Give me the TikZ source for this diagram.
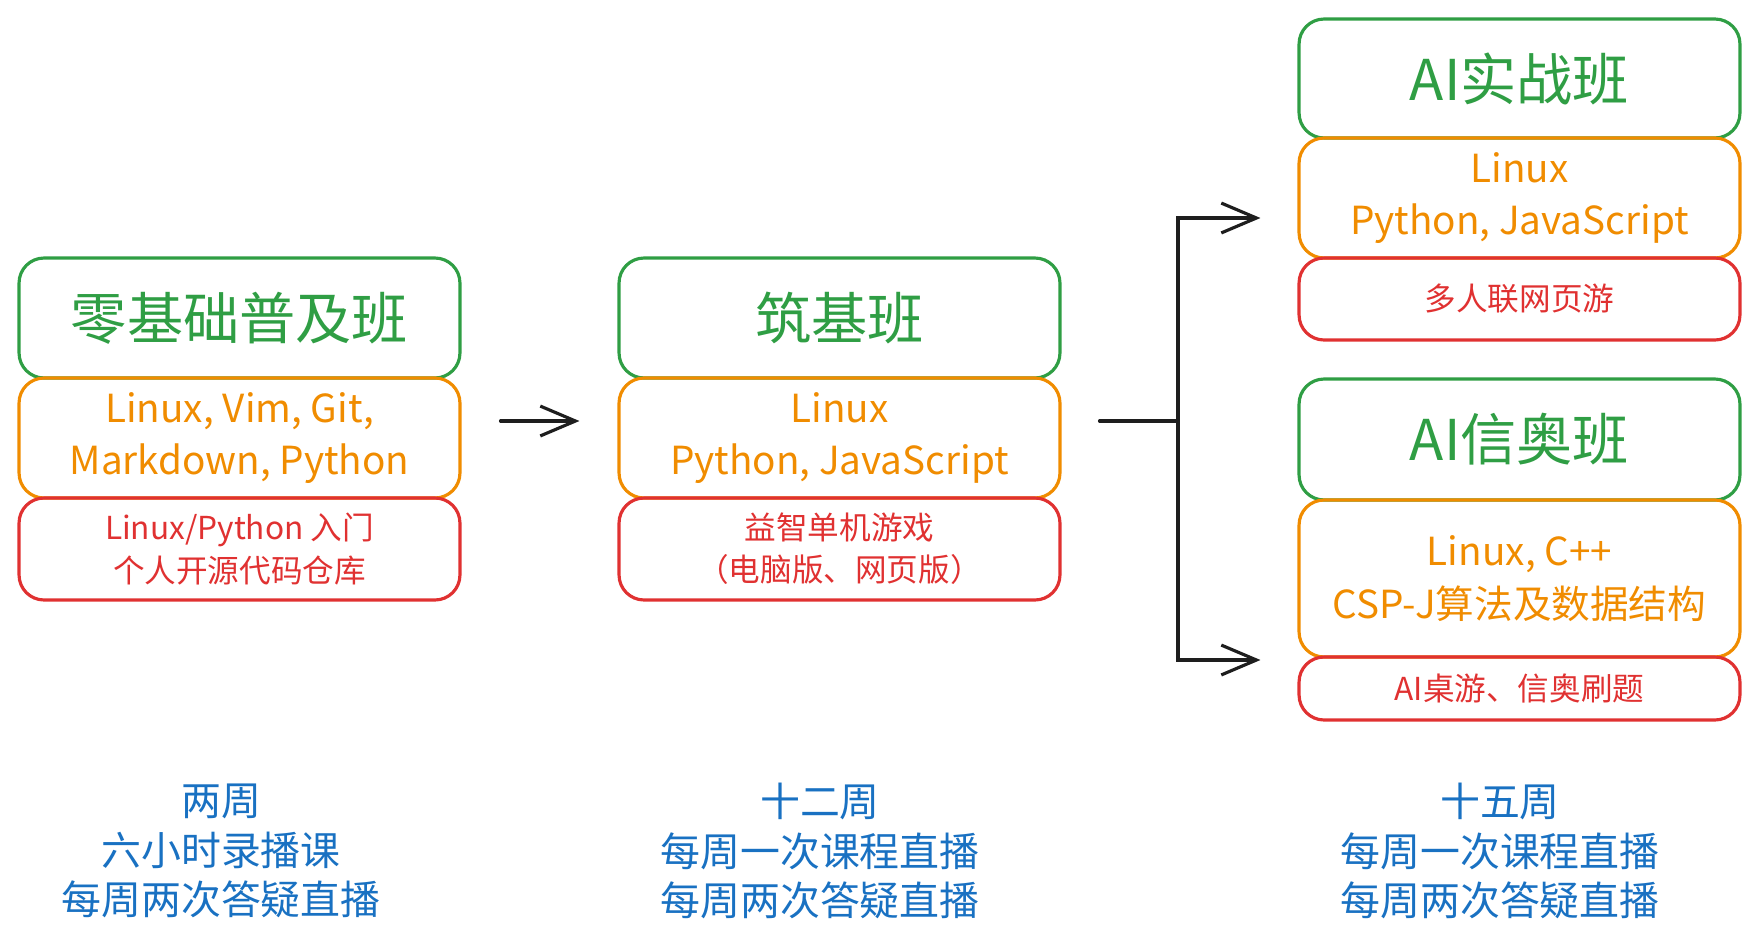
\documentclass[tikz,border=0pt]{standalone}
\usepackage{fontspec}
\setmainfont{Noto Sans CJK SC}
\usetikzlibrary{arrows.meta}
\definecolor{cgreen}{HTML}{2F9E44}
\definecolor{corange}{HTML}{F08C00}
\definecolor{cred}{HTML}{E03131}
\definecolor{cblue}{HTML}{1971C2}
\definecolor{cink}{HTML}{1E1E1E}
\begin{document}
\begin{tikzpicture}[x=0.02cm, y=-0.02cm, line width=1.8pt,
    layer/.style={draw, rounded corners=0.5cm, align=center, inner sep=0pt, minimum width=8.82cm},
    title/.style={layer, cgreen, font=\fontsize{32}{38}\selectfont},
    skill/.style={layer, corange, font=\fontsize{22}{30}\selectfont},
    proj/.style={layer, cred, font=\fontsize{18}{24}\selectfont},
    plan/.style={cblue, align=center, font=\fontsize{22.7}{28.4}\selectfont},
    flow/.style={cink, line cap=round, -{Straight Barb[length=20pt, width=17pt, line width=1.8pt]}}]
    \useasboundingbox (0,0) rectangle (1760,950);
    % 零基础
    \node[title, minimum height=2.4cm] (zeroTitle) at (239.5,318) {零基础普及班};
    \node[skill, minimum height=2.4cm] (zeroSkill) at (239.5,438) {Linux, Vim, Git,\\Markdown, Python};
    \node[proj, minimum height=2.04cm] (zeroProj) at (239.5,549) {Linux/Python 入门\\个人开源代码仓库};
    % 筑基
    \node[title, minimum height=2.4cm] (baseTitle) at (839.5,318) {筑基班};
    \node[skill, minimum height=2.4cm] (baseSkill) at (839.5,438) {Linux\\Python, JavaScript};
    \node[proj, minimum height=2.04cm] (baseProj) at (839.5,549) {益智单机游戏\\（电脑版、网页版）};
    % AI实战
    \node[title, minimum height=2.38cm] (warTitle) at (1519.5,78.5) {AI实战班};
    \node[skill, minimum height=2.4cm] (warSkill) at (1519.5,198) {Linux\\Python, JavaScript};
    \node[proj, minimum height=1.64cm] (warProj) at (1519.5,299) {多人联网页游};
    % AI信奥
    \node[title, minimum height=2.42cm] (oiTitle) at (1519.5,439.5) {AI信奥班};
    \node[skill, minimum height=3.14cm] (oiSkill) at (1519.5,578.5) {Linux, C++\\CSP-J算法及数据结构};
    \node[proj, minimum height=1.26cm] (oiProj) at (1519.5,688.5) {AI桌游、信奥刷题};
    % 箭头
    \draw[flow] ([shift={(39,-17)}]zeroSkill.east) -- ([shift={(-38,-17)}]baseSkill.west);
    \coordinate (fork) at (1178,421);
    \coordinate (warTip) at ([shift={(-37,20)}]warSkill.west);
    \coordinate (oiTip) at ([shift={(-37,-28.5)}]oiProj.west);
    \draw[cink, line cap=round] ([shift={(38,-17)}]baseSkill.east) -- (fork);
    \draw[flow] (fork) |- (warTip);
    \draw[flow] (fork) |- (oiTip);
    % 学时
    \node[plan] (zeroPlan) at (221,851) {两周\\六小时录播课\\每周两次答疑直播};
    \node[plan] (basePlan) at (820,851) {十二周\\每周一次课程直播\\每周两次答疑直播};
    \node[plan] (aiPlan) at (1500,851) {十五周\\每周一次课程直播\\每周两次答疑直播};
\end{tikzpicture}
\end{document}
